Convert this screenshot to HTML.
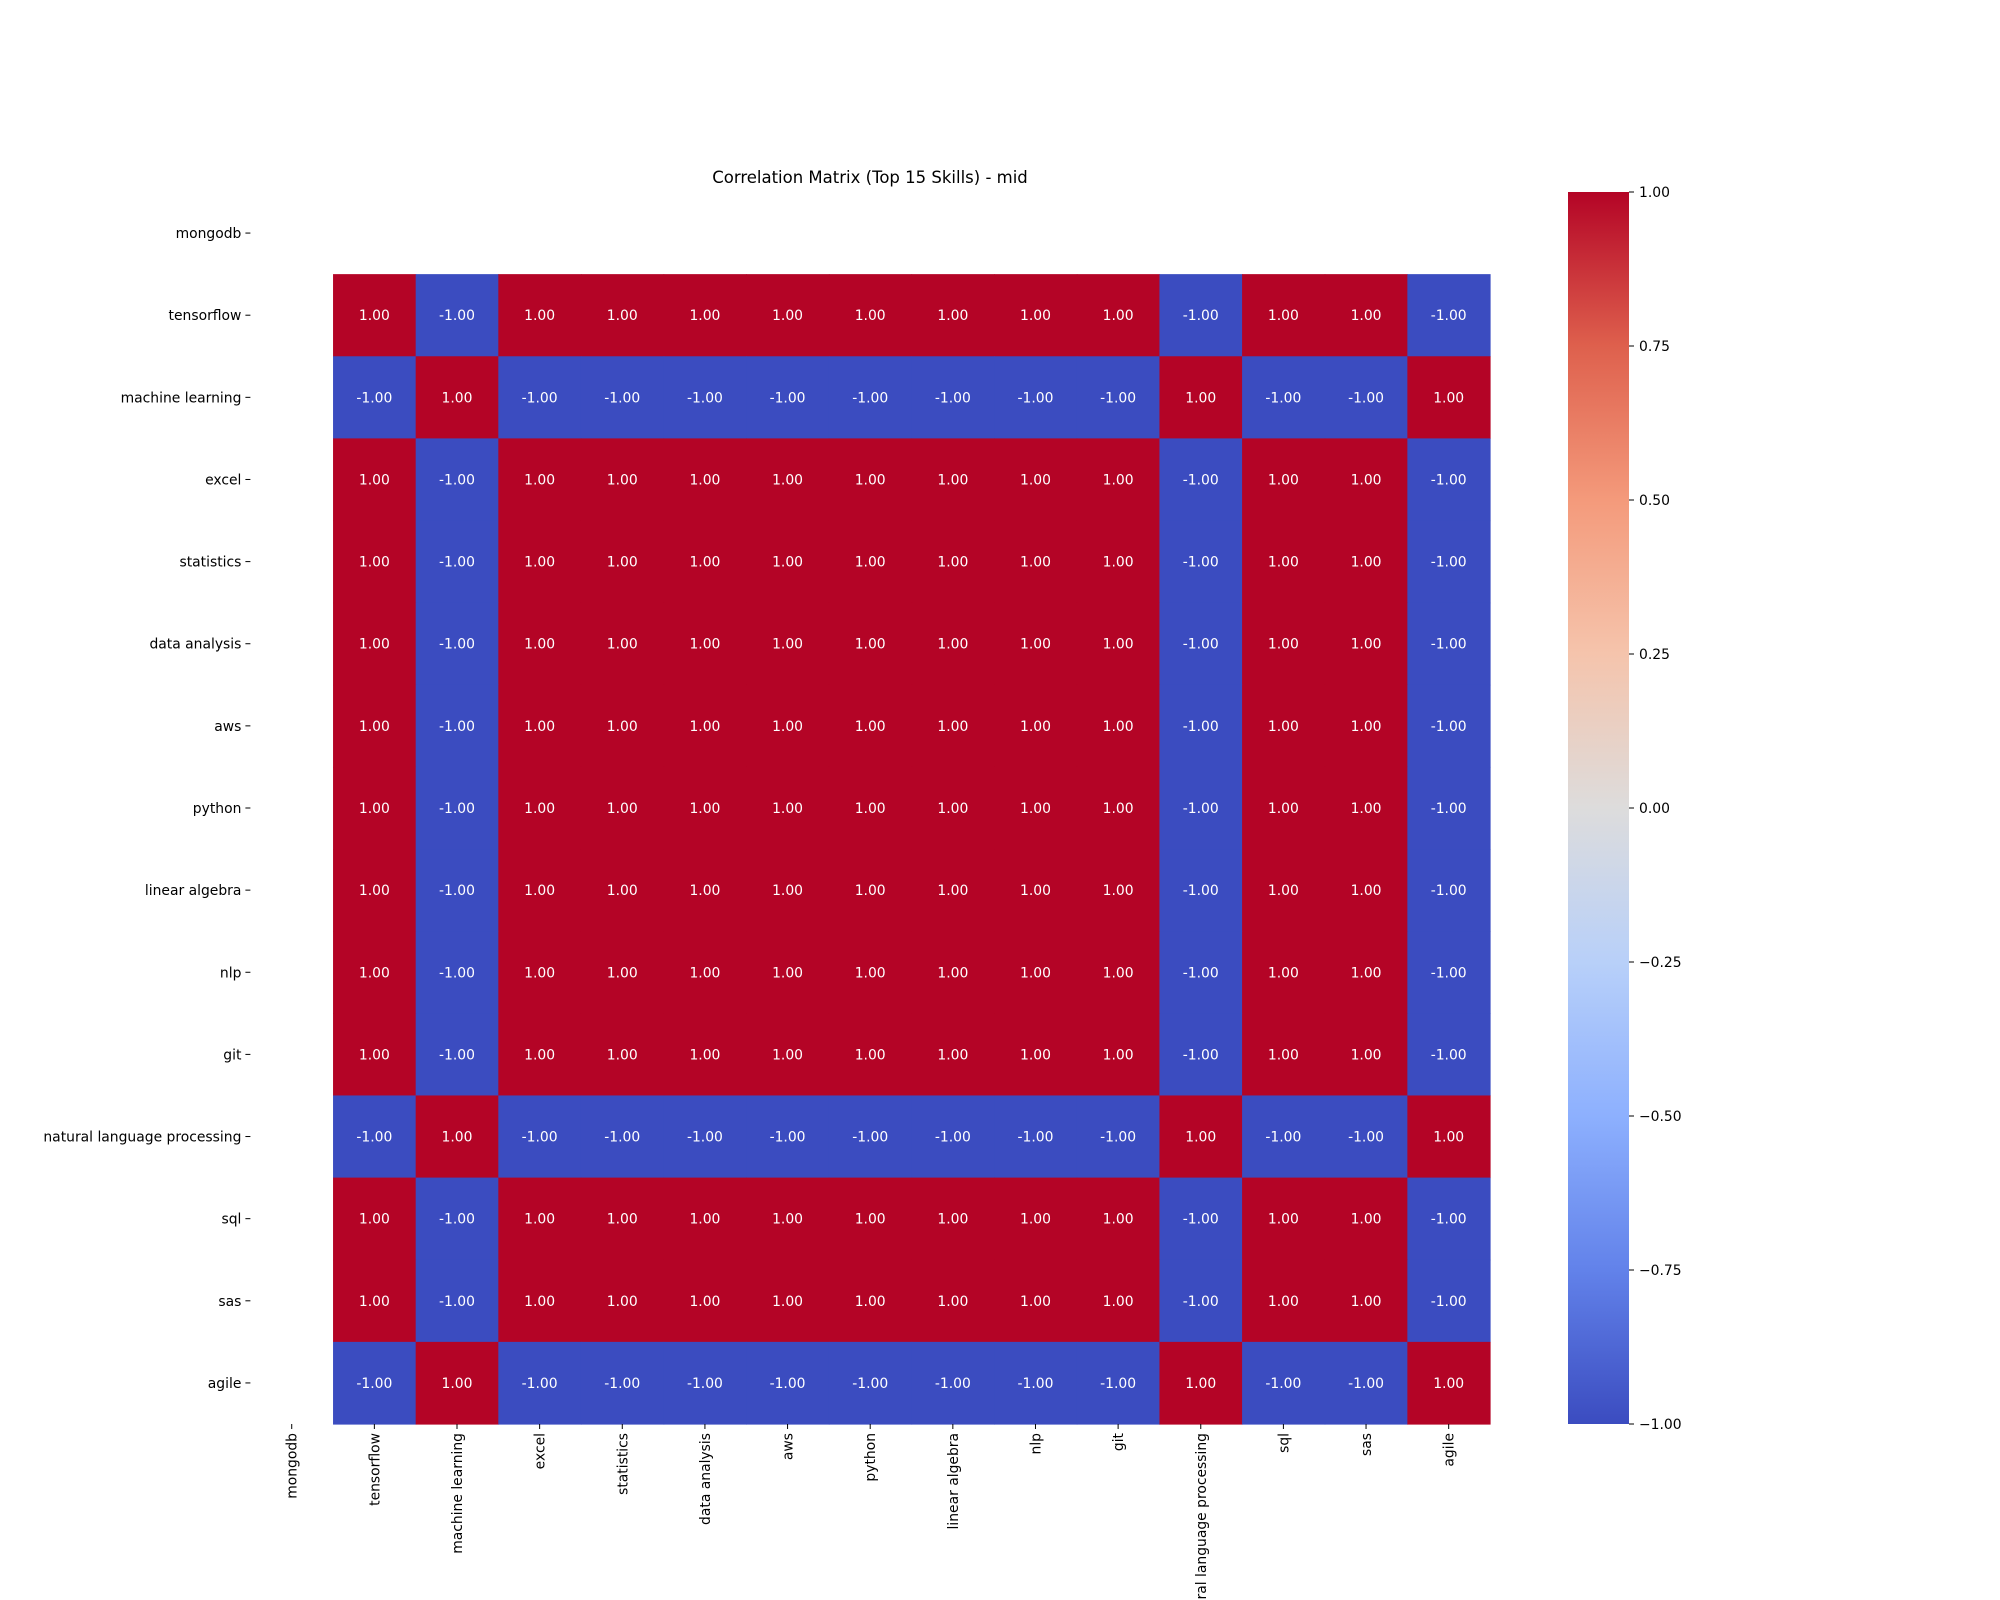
<!DOCTYPE html>
<html><head><meta charset="utf-8"><style>
html,body{margin:0;padding:0;background:#fff;}
svg{display:block;font-family:"DejaVu Sans","Liberation Sans",sans-serif;}
</style></head><body>
<svg id="chart" width="2000" height="1600" viewBox="0 0 2000 1600">
<defs>
<linearGradient id="cw" x1="0" y1="1" x2="0" y2="0">
<stop offset="0" stop-color="#3b4cc0"/><stop offset="0.125" stop-color="#6282ea"/>
<stop offset="0.25" stop-color="#8db0fe"/><stop offset="0.375" stop-color="#b8d0f9"/>
<stop offset="0.5" stop-color="#dddcdc"/><stop offset="0.625" stop-color="#f5c4ac"/>
<stop offset="0.75" stop-color="#f49a7b"/><stop offset="0.875" stop-color="#de604d"/>
<stop offset="1" stop-color="#b40426"/>
</linearGradient>
</defs>
<text x="870" y="183" text-anchor="middle" font-size="16.5" fill="#000">Correlation Matrix (Top 15 Skills) - mid</text>
<g id="cells"></g><g id="ylab"></g><g id="xlab"></g>
<rect x="1568" y="192" width="61" height="1232" fill="url(#cw)"/>
<g id="cbticks"></g>
</svg>
<script>
const skills = ["mongodb","tensorflow","machine learning","excel","statistics","data analysis","aws","python","linear algebra","nlp","git","natural language processing","sql","sas","agile"];
const groupB = ["machine learning","natural language processing","agile"];
const nanSkills = ["mongodb"];
const cbTicks = [-1,-0.75,-0.5,-0.25,0,0.25,0.5,0.75,1];
const cbLabels = ["\u22121.00","\u22120.75","\u22120.50","\u22120.25","0.00","0.25","0.50","0.75","1.00"];

const X0=250.4, X1=1490, Y0=192, Y1=1424, n=skills.length;
const cw=(X1-X0)/n, ch=(Y1-Y0)/n;
const xs=i=>X0+i*cw, ys=i=>Y0+i*ch;
const cbY=v=>Y1-(v+1)/2*(Y1-Y0);
const color=v=>v>0?"#b40426":"#3b4cc0";
const NS="http://www.w3.org/2000/svg";
function mk(tag,attrs,parent){const e=document.createElementNS(NS,tag);for(const k in attrs)e.setAttribute(k,attrs[k]);parent.appendChild(e);return e;}
function corr(a,b){if(nanSkills.includes(a)||nanSkills.includes(b))return null;return (groupB.includes(a)===groupB.includes(b))?1:-1;}
const cells=document.getElementById('cells'),yl=document.getElementById('ylab'),xl=document.getElementById('xlab'),cb=document.getElementById('cbticks');
skills.forEach((r,i)=>{skills.forEach((c,j)=>{
  const v=corr(r,c); if(v===null)return;
  const rc=mk('rect',{x:xs(j),y:ys(i),width:cw+0.6,height:ch+0.6,fill:color(v)},cells);
  
  
  const t=mk('text',{x:xs(j)+cw/2,y:ys(i)+ch/2+5,'text-anchor':'middle','font-size':'13.9',fill:'#fff'},cells);
  t.textContent=v.toFixed(2);
  
  
});});
skills.forEach((s,i)=>{
  const y=ys(i)+ch/2;
  mk('line',{x1:X0-5,x2:X0,y1:y,y2:y,stroke:'#000','stroke-width':1},yl);
  const t=mk('text',{x:X0-9,y:y+5,'text-anchor':'end','font-size':'13.9',fill:'#000'},yl);
  t.textContent=s;
  
  
  const x=xs(i)+cw/2;
  mk('line',{x1:x,x2:x,y1:Y1,y2:Y1+5,stroke:'#000','stroke-width':1},xl);
  const u=mk('text',{x:0,y:0,'text-anchor':'end','font-size':'13.9',fill:'#000',transform:`translate(${x+5},${Y1+9}) rotate(-90)`},xl);
  u.textContent=s;
  
  
});
cbTicks.forEach((v,i)=>{
  const y=cbY(v);
  mk('line',{x1:1629,x2:1634,y1:y,y2:y,stroke:'#000','stroke-width':1},cb);
  const t=mk('text',{x:1639,y:y+5,'font-size':'13.9',fill:'#000'},cb);
  t.textContent=cbLabels[i];
  
  
});
</script>
</body></html>
